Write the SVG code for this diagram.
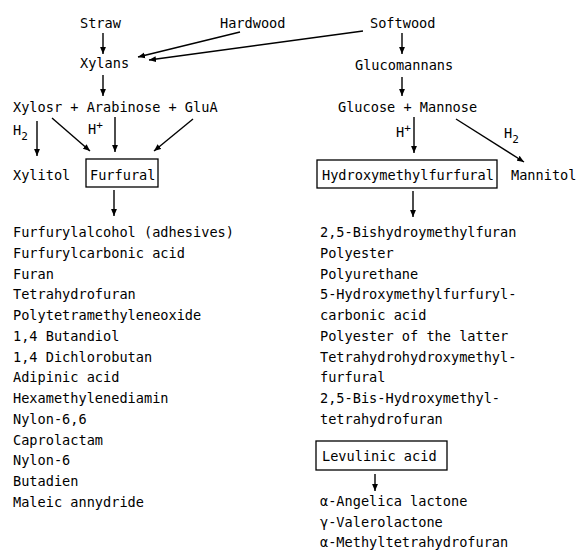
<svg xmlns="http://www.w3.org/2000/svg" width="578" height="550" viewBox="0 0 578 550">
<defs>
<marker id="ah" viewBox="0 0 10 10" refX="10" refY="5" markerWidth="7" markerHeight="7" markerUnits="userSpaceOnUse" orient="auto">
<path d="M0,0.8 L10,5 L0,9.2 z" fill="#000"/>
</marker>
<style>
text{font-family:"DejaVu Sans Mono","Liberation Mono",monospace;font-size:13.6px;fill:#000}
.sub{font-size:11px}
.c line{stroke:#000;stroke-width:1.4;marker-end:url(#ah)}
.box{fill:none;stroke:#000;stroke-width:1.3}
</style>
</defs>
<rect width="578" height="550" fill="#fff"/>
<g id="straw"><text x="80" y="28">Straw</text></g>
<g id="hardwood"><text x="220" y="28">Hardwood</text></g>
<g id="softwood"><text x="370" y="28">Softwood</text></g>
<g id="xylans"><text x="80" y="68">Xylans</text></g>
<g id="glucomannans"><text x="355" y="70">Glucomannans</text></g>
<g id="sugars-left"><text x="13" y="112">Xylosr + Arabinose + GluA</text></g>
<g id="sugars-right"><text x="338" y="112">Glucose + Mannose</text></g>
<g id="label-h2-left"><text x="13" y="135">H<tspan class="sub" dy="5">2</tspan></text></g>
<g id="label-hplus-left"><text x="88" y="134">H<tspan class="sub" dy="-5">+</tspan></text></g>
<g id="label-hplus-right"><text x="396" y="137">H<tspan class="sub" dy="-5">+</tspan></text></g>
<g id="label-h2-right"><text x="504" y="138">H<tspan class="sub" dy="5">2</tspan></text></g>
<g id="xylitol"><text x="13" y="180">Xylitol</text></g>
<g id="furfural"><rect class="box" x="86" y="159" width="72" height="28"/><text x="90" y="180">Furfural</text></g>
<g id="hmf"><rect class="box" x="317" y="160" width="180" height="28"/><text x="322" y="180">Hydroxymethylfurfural</text></g>
<g id="mannitol"><text x="511" y="180">Mannitol</text></g>
<g id="furfural-products">
<text x="13" y="237">Furfurylalcohol (adhesives)</text>
<text x="13" y="257.75">Furfurylcarbonic acid</text>
<text x="13" y="278.5">Furan</text>
<text x="13" y="299.25">Tetrahydrofuran</text>
<text x="13" y="320">Polytetramethyleneoxide</text>
<text x="13" y="340.75">1,4 Butandiol</text>
<text x="13" y="361.5">1,4 Dichlorobutan</text>
<text x="13" y="382.25">Adipinic acid</text>
<text x="13" y="403">Hexamethylenediamin</text>
<text x="13" y="423.75">Nylon-6,6</text>
<text x="13" y="444.5">Caprolactam</text>
<text x="13" y="465.25">Nylon-6</text>
<text x="13" y="486">Butadien</text>
<text x="13" y="506.75">Maleic annydride</text>
</g>
<g id="hmf-products">
<text x="320" y="237">2,5-Bishydroymethylfuran</text>
<text x="320" y="257.75">Polyester</text>
<text x="320" y="278.5">Polyurethane</text>
<text x="320" y="299.25">5-Hydroxymethylfurfuryl-</text>
<text x="320" y="320">carbonic acid</text>
<text x="320" y="340.75">Polyester of the latter</text>
<text x="320" y="361.5">Tetrahydrohydroxymethyl-</text>
<text x="320" y="382.25">furfural</text>
<text x="320" y="403">2,5-Bis-Hydroxymethyl-</text>
<text x="320" y="423.75">tetrahydrofuran</text>
</g>
<g id="levulinic"><rect class="box" x="316" y="441" width="131" height="29"/><text x="322" y="461">Levulinic acid</text></g>
<g id="levulinic-products">
<text x="320" y="506">α-Angelica lactone</text>
<text x="320" y="527">γ-Valerolactone</text>
<text x="320" y="547">α-Methyltetrahydrofuran</text>
</g>
<g id="connectors" class="c">
<line x1="103" y1="33" x2="103" y2="54"/>
<line x1="240" y1="32" x2="138" y2="57"/>
<line x1="363" y1="31" x2="149" y2="60"/>
<line x1="402" y1="33" x2="402" y2="54"/>
<line x1="103" y1="75" x2="103" y2="96"/>
<line x1="402" y1="77" x2="402" y2="96"/>
<line x1="37" y1="121" x2="37" y2="156"/>
<line x1="52" y1="118" x2="90" y2="151"/>
<line x1="115" y1="117" x2="115" y2="152"/>
<line x1="193" y1="119" x2="154" y2="151"/>
<line x1="414" y1="117" x2="414" y2="153"/>
<line x1="456" y1="119" x2="524" y2="162"/>
<line x1="114" y1="190" x2="114" y2="216"/>
<line x1="413" y1="191" x2="413" y2="217"/>
<line x1="375" y1="474" x2="375" y2="491"/>
</g>
</svg>
